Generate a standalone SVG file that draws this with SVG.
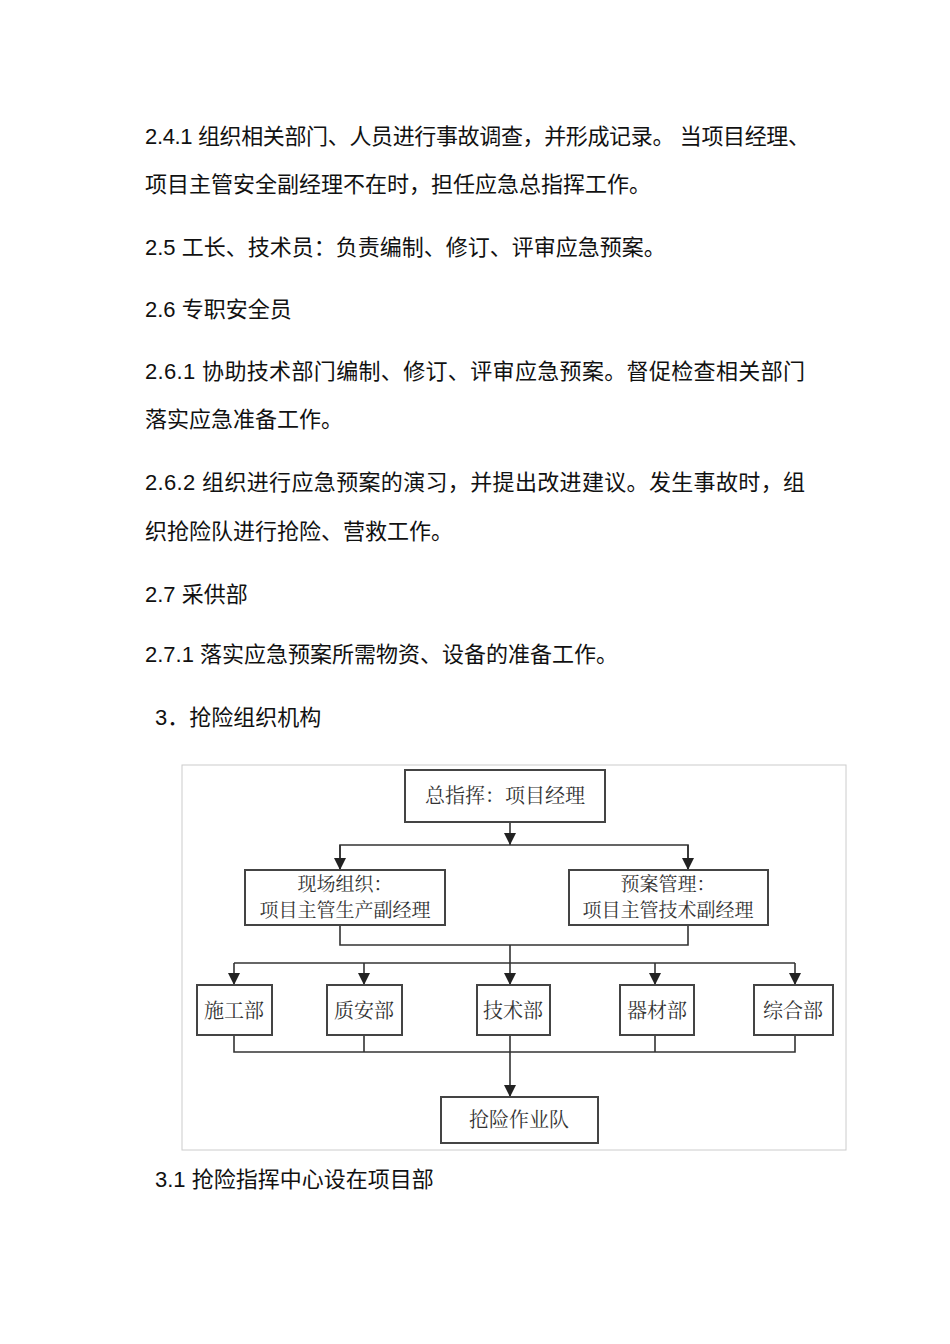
<svg xmlns="http://www.w3.org/2000/svg" width="950" height="1344" viewBox="0 0 950 1344">
<style>
.t{font-family:"Liberation Sans","Noto Sans CJK SC",sans-serif;font-size:22px;fill:#111}
.n{font-family:"Noto Serif CJK SC","Noto Sans CJK SC",serif;font-size:20px;fill:#333;text-anchor:middle}
.s{font-size:19px}
.b{fill:#fff;stroke:#444;stroke-width:2}
.c{stroke:#333;stroke-width:1.6;fill:none}
</style>
<defs>
<marker id="d" markerWidth="12" markerHeight="12" refX="12" refY="6" orient="auto" markerUnits="userSpaceOnUse"><path d="M0,0L12,6L0,12z" fill="#222"/></marker></defs>
<rect width="950" height="1344" fill="#fff"/>
<text class="t" x="145" y="144" textLength="665" lengthAdjust="spacing">2.4.1 组织相关部门、人员进行事故调查，并形成记录。 当项目经理、</text>
<text class="t" x="145" y="192">项目主管安全副经理不在时，担任应急总指挥工作。</text>
<text class="t" x="145" y="255">2.5  工长、技术员：负责编制、修订、评审应急预案。</text>
<text class="t" x="145" y="317">2.6 专职安全员</text>
<text class="t" x="145" y="379" textLength="660" lengthAdjust="spacing">2.6.1  协助技术部门编制、修订、评审应急预案。督促检查相关部门</text>
<text class="t" x="145" y="427">落实应急准备工作。</text>
<text class="t" x="145" y="490" textLength="660" lengthAdjust="spacing">2.6.2  组织进行应急预案的演习，并提出改进建议。发生事故时，组</text>
<text class="t" x="145" y="539">织抢险队进行抢险、营救工作。</text>
<text class="t" x="145" y="602">2.7  采供部</text>
<text class="t" x="145" y="662">2.7.1 落实应急预案所需物资、设备的准备工作。</text>
<text class="t" x="155" y="725">3．抢险组织机构</text>
<text class="t" x="155" y="1187">3.1  抢险指挥中心设在项目部</text>
<rect x="182" y="765" width="664" height="385" fill="none" stroke="#ccc" stroke-width="1"/>
<g id="connectors">
<path class="c" d="M510 822V845" marker-end="url(#d)"/>
<path class="c" d="M340 870V845H688V870"/>
<path class="c" d="M340 845V870" marker-end="url(#d)"/>
<path class="c" d="M688 845V870" marker-end="url(#d)"/>
<path class="c" d="M340 925V945H688V925"/>
<path class="c" d="M234 963H795"/>
<path class="c" d="M510 945V985" marker-end="url(#d)"/>
<path class="c" d="M234 963V985" marker-end="url(#d)"/>
<path class="c" d="M364 963V985" marker-end="url(#d)"/>
<path class="c" d="M655 963V985" marker-end="url(#d)"/>
<path class="c" d="M795 963V985" marker-end="url(#d)"/>
<path class="c" d="M234 1035V1052H795V1035M364 1035V1052M655 1035V1052"/>
<path class="c" d="M510 1035V1097" marker-end="url(#d)"/>
</g>
<g id="n1"><rect class="b" x="405" y="770" width="200" height="52"/><text class="n" x="505" y="803">总指挥：项目经理</text></g>
<g id="n2"><rect class="b" x="245" y="870" width="200" height="55"/><text class="n s" x="345" y="891">现场组织：</text><text class="n s" x="345" y="917">项目主管生产副经理</text></g>
<g id="n3"><rect class="b" x="569" y="870" width="199" height="55"/><text class="n s" x="668" y="891">预案管理：</text><text class="n s" x="668" y="917">项目主管技术副经理</text></g>
<g id="n4"><rect class="b" x="197" y="985" width="75" height="50"/><text class="n" x="234" y="1018">施工部</text></g>
<g id="n5"><rect class="b" x="327" y="985" width="75" height="50"/><text class="n" x="364" y="1018">质安部</text></g>
<g id="n6"><rect class="b" x="477" y="985" width="73" height="50"/><text class="n" x="513" y="1018">技术部</text></g>
<g id="n7"><rect class="b" x="620" y="985" width="74" height="50"/><text class="n" x="657" y="1018">器材部</text></g>
<g id="n8"><rect class="b" x="754" y="985" width="79" height="50"/><text class="n" x="793" y="1018">综合部</text></g>
<g id="n9"><rect class="b" x="441" y="1097" width="157" height="46"/><text class="n" x="519" y="1127">抢险作业队</text></g>
</svg>
